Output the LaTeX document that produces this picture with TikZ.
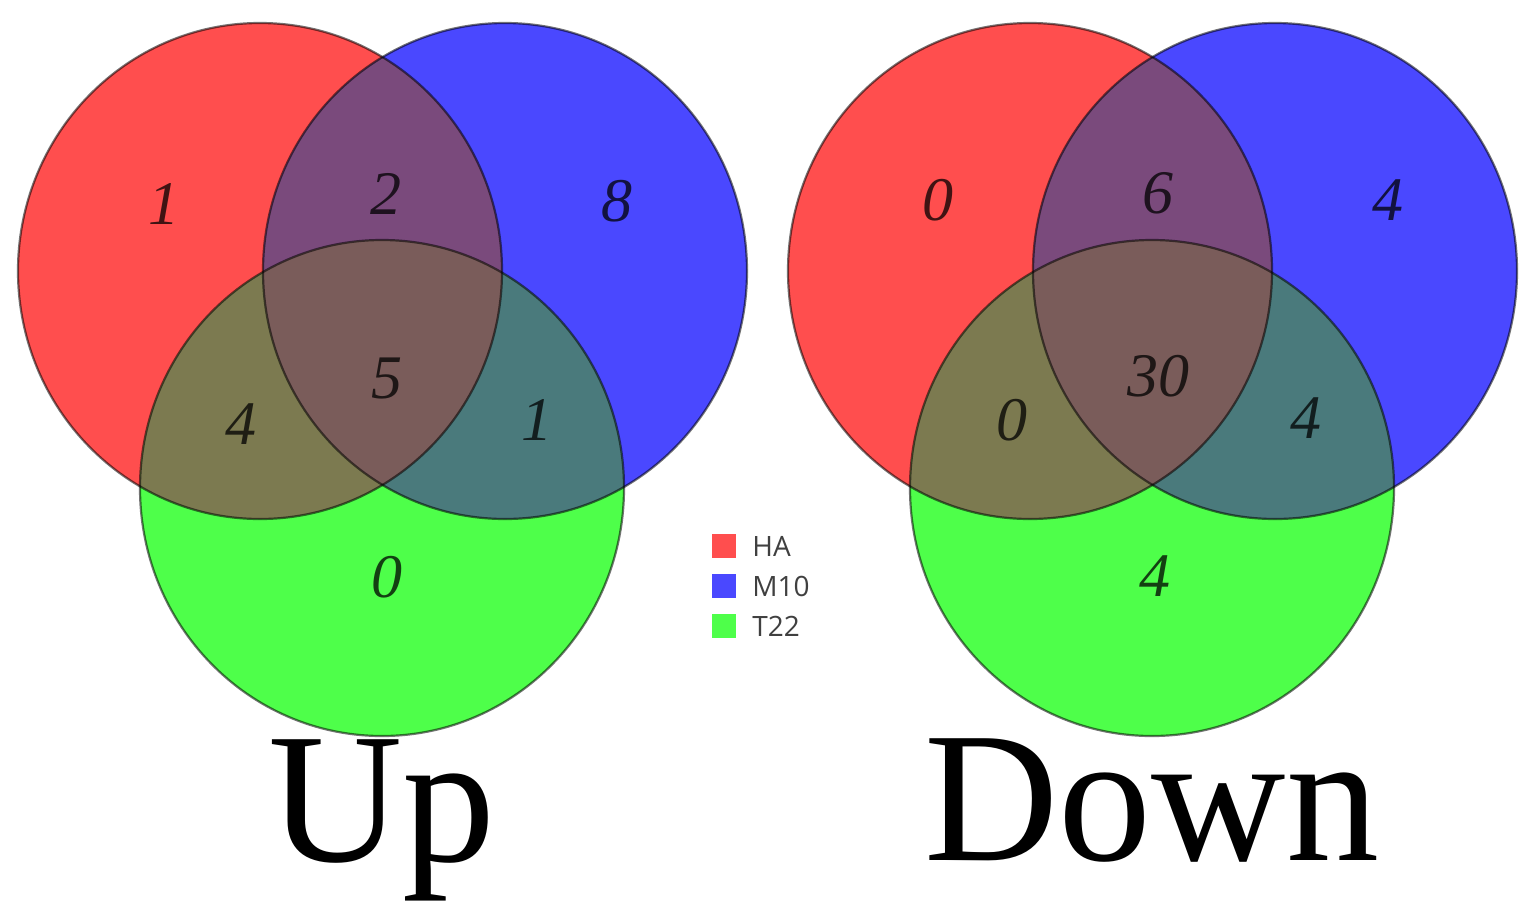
\documentclass[tikz,border=0pt]{standalone}
\usepackage{fontspec}
\setmainfont{Liberation Serif}
\newfontfamily\legendfont{Open Sans}

\definecolor{hacol}{RGB}{255,78,78}
\definecolor{mcol}{RGB}{74,72,255}
\definecolor{tcol}{RGB}{78,255,74}
\definecolor{hamcol}{RGB}{122,74,124}
\definecolor{hatcol}{RGB}{124,122,80}
\definecolor{mtcol}{RGB}{74,122,124}
\definecolor{allcol}{RGB}{122,92,90}

\begin{document}
\begin{tikzpicture}[x=0.5pt, y=-0.5pt,
    rad/.style={x radius=242, y radius=248},
    rim/.style={draw=black, draw opacity=0.55, line width=1.1pt},
    count/.style={font=\fontsize{31}{31}\selectfont\itshape, text opacity=0.75, inner sep=0pt},
    title/.style={font=\fontsize{93}{93}\selectfont, inner sep=0pt, anchor=base},
    key/.style={minimum size=12pt, inner sep=0pt},
    keytext/.style={font=\legendfont\fontsize{14}{14}\selectfont, text=black!75, anchor=west, inner sep=0pt}]

    \useasboundingbox (0,0) rectangle (1535,922);

    % both diagrams use the same three sets
    \foreach \dx in {0, 770} {
        \begin{scope}[shift={(\dx,0)}]
            \coordinate (ha) at (260,271);
            \coordinate (m) at (505,271);
            \coordinate (t) at (382,488);

            \fill[hacol] (ha) ellipse [rad];
            \fill[mcol] (m) ellipse [rad];
            \fill[tcol] (t) ellipse [rad];

            \begin{scope}
                \clip (m) ellipse [rad];
                \fill[mtcol] (t) ellipse [rad];
            \end{scope}
            \begin{scope}
                \clip (ha) ellipse [rad];
                \fill[hamcol] (m) ellipse [rad];
                \fill[hatcol] (t) ellipse [rad];
                \clip (m) ellipse [rad];
                \fill[allcol] (t) ellipse [rad];
            \end{scope}

            \draw[rim] (ha) ellipse [rad];
            \draw[rim] (m) ellipse [rad];
            \draw[rim] (t) ellipse [rad];
        \end{scope}
    }

    % counts, Up
    \node[count] (up-ha) at (164,204) {1};
    \node[count] (up-ham) at (386,194) {2};
    \node[count] (up-m) at (617,201) {8};
    \node[count] (up-all) at (387,378) {5};
    \node[count] (up-hat) at (241,424) {4};
    \node[count] (up-mt) at (537,420) {1};
    \node[count] (up-t) at (387,577) {0};

    % counts, Down
    \node[count] (down-ha) at (938,200) {0};
    \node[count] (down-ham) at (1158,193) {6};
    \node[count] (down-m) at (1388,200) {4};
    \node[count] (down-all) at (1158,376) {30};
    \node[count] (down-hat) at (1012,420) {0};
    \node[count] (down-mt) at (1306,418) {4};
    \node[count] (down-t) at (1155,576) {4};

    % legend
    \node[key, fill=hacol] (key-ha) at (724,546) {};
    \node[key, fill=mcol] (key-m) at (724,586) {};
    \node[key, fill=tcol] (key-t) at (724,626) {};
    \node[keytext] (lab-ha) at (752,546) {HA};
    \node[keytext] (lab-m) at (752,586) {M10};
    \node[keytext] (lab-t) at (752,626) {T22};

    \node[title] (up) at (382,861) {Up};
    \node[title] (down) at (1152,860) {Down};

\end{tikzpicture}
\end{document}
